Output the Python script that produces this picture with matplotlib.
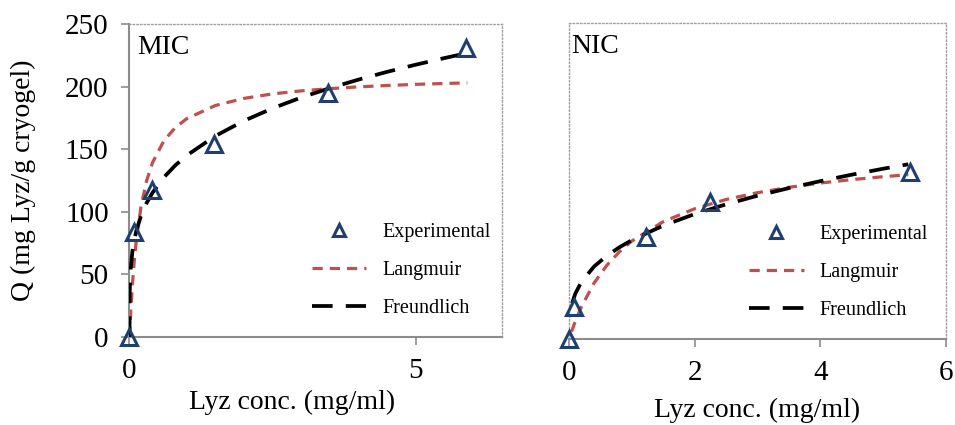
import matplotlib
matplotlib.use("Agg")
import matplotlib.pyplot as plt
from matplotlib.lines import Line2D

plt.rcParams['font.family'] = ['Liberation Serif', 'DejaVu Serif']

# MIC experimental points
mic_x = [0.0, 0.08, 0.39, 1.48, 3.47, 5.87]
mic_q = [0.0, 83.5, 117.5, 154.0, 194.5, 231.0]

# MIC fitted curves
mic_fit_x = [0.0, 0.005, 0.02, 0.05, 0.08, 0.12, 0.2, 0.3, 0.4, 0.6, 0.8, 1.0,
             1.5, 2.0, 2.5, 3.0, 3.5, 4.0, 4.5, 5.0, 5.5, 5.9]
mic_lang = [0.0, 4.8, 18.7, 41.3, 59.1, 77.8, 103.9, 125.0, 139.1, 156.7, 167.3, 174.4,
            184.9, 190.6, 194.2, 196.6, 198.4, 199.8, 200.9, 201.8, 202.5, 203.0]
mic_freu = [0.0, 38.1, 54.1, 68.1, 76.7, 85.0, 96.7, 107.1, 115.1, 127.5, 137.1, 145.0,
            160.6, 172.7, 182.7, 191.3, 198.8, 205.6, 211.8, 217.5, 222.8, 226.8]

# NIC experimental points
nic_x = [0.0, 0.08, 1.22, 2.25, 5.42]
nic_q = [0.0, 25.5, 81.0, 108.5, 132.0]

# NIC fitted curves
nic_lang_x = [0.04, 0.1, 0.2, 0.4, 0.6, 0.8, 1.0, 1.5, 2.0, 2.5, 3.0, 3.5, 4.0, 4.5, 5.0, 5.4]
nic_lang = [6.0, 14.2, 26.0, 44.5, 58.3, 69.0, 77.6, 92.9, 103.1, 110.4, 115.8, 120.0,
            123.4, 126.1, 128.4, 130.0]
nic_freu_x = [0.05, 0.1, 0.2, 0.4, 0.6, 0.8, 1.0, 1.5, 2.0, 2.5, 3.0, 3.5, 4.0, 4.5, 5.0, 5.4]
nic_freu = [28.5, 36.0, 45.6, 57.5, 65.9, 72.6, 78.3, 89.8, 98.9, 106.6, 113.4, 119.4,
            124.9, 130.0, 134.7, 138.2]

mic_xticks = [0, 5]
nic_xticks = [0, 2, 4, 6]
yticks = [0, 50, 100, 150, 200, 250]
labels = ['Experimental', 'Langmuir', 'Freundlich']

blue = '#1F3F6E'
red = '#C0504D'
grey = '#8C8C8C'

fig = plt.figure(figsize=(9.55, 4.25), dpi=100)
ax1 = fig.add_axes([0.1356, 0.2071, 0.3897, 0.7364])
ax2 = fig.add_axes([0.5958, 0.2016, 0.3948, 0.7450])


def style(ax):
    for s in ['top', 'right']:
        ax.spines[s].set_linestyle(':')
        ax.spines[s].set_color('#A0A0A0')
        ax.spines[s].set_linewidth(1.0)
    for s in ['left', 'bottom']:
        ax.spines[s].set_color(grey)
        ax.spines[s].set_linewidth(1.5)
    ax.tick_params(direction='out', color=grey, length=6, width=1.2, labelsize=21, pad=9)


def draw(ax, ex, eq, lx, ly, fx, fy):
    ax.plot(lx, ly, color=red, lw=2.3, dashes=(3.2, 2.2), zorder=2)
    ax.plot(fx, fy, color='black', lw=2.7, dashes=(5.5, 3.5), zorder=3)
    ax.plot(ex, eq, ls='none', marker='^', ms=11, mfc='none', mec=blue, mew=2.2,
            zorder=4, clip_on=False)


def legend(ax, x, y):
    h = [Line2D([], [], ls='none', marker='^', ms=9, mfc='none', mec=blue, mew=2.2),
         Line2D([], [], color=red, lw=2.3, dashes=(3.2, 2.2)),
         Line2D([], [], color='black', lw=2.7, dashes=(5.5, 3.5))]
    ax.legend(h, labels, loc='upper left', bbox_to_anchor=(x, y),
              bbox_transform=fig.transFigure, frameon=False, fontsize=14.5,
              handlelength=2.7, handletextpad=0.8, labelspacing=0.95, borderpad=0)


draw(ax1, mic_x, mic_q, mic_fit_x, mic_lang, mic_fit_x, mic_freu)
style(ax1)
ax1.set_xlim(0, 6.5)
ax1.set_ylim(0, 250)
ax1.set_xticks(mic_xticks)
ax1.set_yticks(yticks)
ax1.set_xlabel('Lyz conc. (mg/ml)', fontsize=20)
ax1.xaxis.set_label_coords(0.437, -0.17)
ax1.set_ylabel('Q (mg Lyz/g cryogel)', fontsize=20)
ax1.yaxis.set_label_coords(-0.25, 0.5)
ax1.text(0.02, 0.965, 'MIC', transform=ax1.transAxes, va='top', ha='left', fontsize=20)
legend(ax1, 0.316, 0.50)

draw(ax2, nic_x, nic_q, nic_lang_x, nic_lang, nic_freu_x, nic_freu)
style(ax2)
ax2.spines['left'].set_linestyle(':')
ax2.spines['left'].set_color('#A0A0A0')
ax2.spines['left'].set_linewidth(1.0)
ax2.set_xlim(0, 6)
ax2.set_ylim(0, 250)
ax2.set_xticks(nic_xticks)
ax2.set_yticks([])
ax2.set_xlabel('Lyz conc. (mg/ml)', fontsize=20)
ax2.xaxis.set_label_coords(0.5, -0.185)
ax2.text(0.005, 0.965, 'NIC', transform=ax2.transAxes, va='top', ha='left', fontsize=20)
legend(ax2, 0.774, 0.495)

fig.savefig('out.png', dpi=100)
